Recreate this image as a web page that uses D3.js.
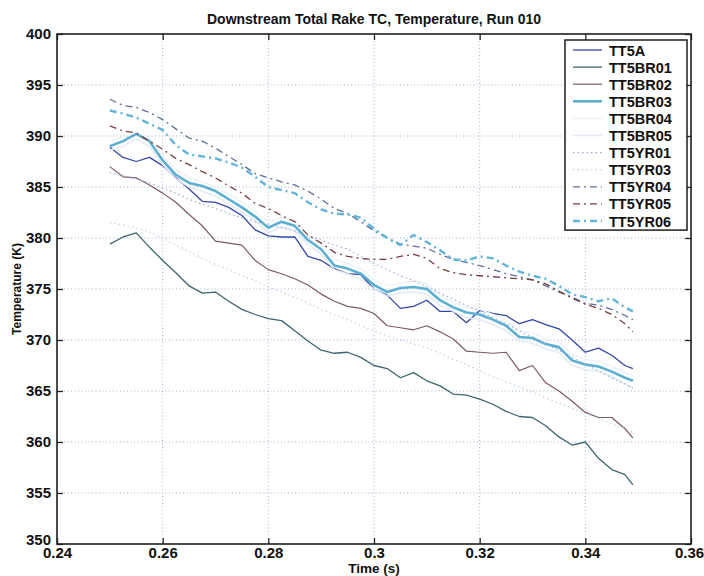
<!DOCTYPE html>
<html>
<head>
<meta charset="utf-8">
<script src="https://cdn.jsdelivr.net/npm/d3@7/dist/d3.min.js"></script>
<style>
  html, body { margin: 0; padding: 0; background: #ffffff; }
  svg { display: block; }
  text { font-family: "Liberation Sans", Arial, sans-serif; fill: #111; }
</style>
</head>
<body>
<svg id="chart" width="704" height="576"></svg>
<script>
// Sample times (s)
const times = [0.2500, 0.2525, 0.2550, 0.2575, 0.2600, 0.2625, 0.2650, 0.2675, 0.2700, 0.2725,
               0.2750, 0.2775, 0.2800, 0.2825, 0.2850, 0.2875, 0.2900, 0.2925, 0.2950, 0.2975,
               0.3000, 0.3025, 0.3050, 0.3075, 0.3100, 0.3125, 0.3150, 0.3175, 0.3200, 0.3225,
               0.3250, 0.3275, 0.3300, 0.3325, 0.3350, 0.3375, 0.3400, 0.3425, 0.3450, 0.3475,
               0.3490];

// Thermocouple temperatures (K)
const TT5A = [388.9, 387.9, 387.5, 387.9, 387.1, 385.9, 384.8, 383.6, 383.5, 383.0,
              382.2, 380.8, 380.2, 380.1, 380.1, 378.2, 377.8, 377.0, 376.5, 376.4,
              375.0, 374.4, 373.1, 373.3, 373.9, 372.8, 372.8, 371.7, 372.9, 372.6,
              372.4, 371.6, 372.0, 371.5, 371.1, 370.0, 368.8, 369.2, 368.5, 367.5,
              367.2];
const TT5BR01 = [379.4, 380.1, 380.5, 379.1, 377.8, 376.6, 375.3, 374.6, 374.7, 373.8,
                 373.0, 372.5, 372.1, 371.9, 370.9, 369.9, 369.0, 368.7, 368.8, 368.3,
                 367.5, 367.2, 366.3, 366.8, 366.0, 365.5, 364.7, 364.6, 364.2, 363.7,
                 363.0, 362.5, 362.4, 361.6, 360.5, 359.7, 360.0, 358.4, 357.3, 356.8,
                 355.8];
const TT5BR02 = [387.0, 386.0, 385.9, 385.2, 384.4, 383.5, 382.3, 381.2, 379.7, 379.5,
                 379.3, 377.8, 376.9, 376.5, 376.0, 375.4, 374.5, 373.8, 373.3, 373.1,
                 372.6, 371.4, 371.2, 371.0, 371.4, 370.8, 370.1, 368.9, 368.8, 368.7,
                 368.8, 367.0, 367.5, 365.8, 365.0, 364.0, 362.9, 362.4, 362.4, 361.3,
                 360.4];
const TT5BR03 = [389.0, 389.5, 390.2, 389.5, 387.6, 386.2, 385.4, 385.1, 384.6, 383.8,
                 383.0, 382.1, 381.0, 381.6, 381.2, 379.8, 378.9, 377.3, 377.0, 376.5,
                 375.4, 374.7, 375.1, 375.2, 375.0, 373.9, 373.2, 372.7, 372.5, 372.0,
                 371.4, 370.3, 370.2, 369.6, 369.3, 368.0, 367.6, 367.4, 366.9, 366.3,
                 366.0];
const TT5BR04 = [389.5, 389.9, 390.4, 389.8, 388.0, 386.7, 385.9, 385.5, 385.0, 384.3,
                 383.5, 382.6, 381.6, 382.0, 381.7, 380.3, 379.4, 377.9, 377.5, 377.0,
                 375.9, 375.3, 375.6, 375.8, 375.5, 374.4, 373.7, 373.2, 373.0, 372.5,
                 371.9, 370.9, 370.7, 370.1, 369.8, 368.6, 368.1, 367.9, 367.4, 366.8,
                 366.5];
const TT5BR05 = [388.6, 389.0, 389.7, 389.0, 387.2, 385.8, 385.0, 384.6, 384.1, 383.4,
                 382.5, 381.7, 380.5, 381.1, 380.7, 379.4, 378.4, 376.9, 376.5, 376.0,
                 375.0, 374.3, 374.6, 374.7, 374.5, 373.4, 372.8, 372.2, 372.0, 371.5,
                 370.9, 369.9, 369.7, 369.1, 368.8, 367.5, 367.1, 366.9, 366.4, 365.7,
                 365.3];
const TT5YR01 = [386.4, 386.1, 385.8, 385.4, 384.9, 384.4, 383.8, 383.3, 382.9, 382.4,
                 382.0, 381.6, 381.3, 381.0, 380.7, 380.2, 379.8, 379.3, 378.9, 378.2,
                 377.5, 376.9, 376.3, 375.8, 375.2, 374.6, 374.0, 373.4, 372.8, 372.2,
                 371.6, 370.9, 370.3, 369.6, 369.0, 368.3, 367.6, 367.0, 366.3, 365.7,
                 365.3];
const TT5YR03 = [381.5, 381.3, 381.0, 380.6, 380.0, 379.3, 378.7, 378.0, 377.4, 376.9,
                 376.3, 375.8, 375.2, 374.7, 374.2, 373.6, 373.0, 372.5, 372.0, 371.4,
                 370.9, 370.4, 370.0, 369.6, 369.2, 368.7, 368.1, 367.6, 367.0, 366.4,
                 365.9, 365.4, 364.9, 364.3, 363.8, 363.3, 362.8, 362.3, 361.8, 361.3,
                 361.0];
const TT5YR04 = [393.6, 393.0, 392.8, 392.3, 391.6, 390.7, 389.8, 389.5, 388.8, 388.0,
                 387.2, 386.3, 385.9, 385.5, 385.2, 384.6, 383.8, 382.9, 382.4, 381.6,
                 380.7, 380.0, 379.4, 379.2, 379.0, 378.4, 377.9, 377.6, 377.3, 376.9,
                 376.5, 376.2, 375.9, 375.3, 374.7, 374.2, 373.6, 373.4, 373.0, 372.4,
                 372.0];
const TT5YR05 = [391.0, 390.5, 390.3, 389.5, 388.7, 387.8, 387.2, 386.5, 385.9, 385.1,
                 384.4, 383.4, 382.9, 382.2, 381.6, 380.3, 379.5, 378.6, 378.2, 378.0,
                 377.9, 377.9, 378.2, 378.4, 378.0, 377.0, 376.6, 376.4, 376.3, 376.2,
                 376.1, 376.0, 375.9, 375.5, 374.8, 374.1, 373.5, 373.1, 372.5, 371.6,
                 370.8];
const TT5YR06 = [392.5, 392.2, 391.8, 391.2, 390.6, 389.1, 388.2, 388.0, 387.8, 387.4,
                 386.9, 386.0, 385.0, 384.7, 384.4, 383.5, 382.8, 382.4, 382.3, 382.0,
                 380.9, 380.0, 379.3, 380.3, 379.6, 378.8, 377.9, 377.8, 378.2, 378.0,
                 377.3, 376.7, 376.3, 376.0, 375.3, 374.5, 374.2, 373.8, 374.1, 373.2,
                 372.8];

const seriesNames = ["TT5A", "TT5BR01", "TT5BR02", "TT5BR03", "TT5BR04", "TT5BR05",
                     "TT5YR01", "TT5YR03", "TT5YR04", "TT5YR05", "TT5YR06"];
const seriesValues = [TT5A, TT5BR01, TT5BR02, TT5BR03, TT5BR04, TT5BR05,
                      TT5YR01, TT5YR03, TT5YR04, TT5YR05, TT5YR06];

// Axis ticks
const xTicks = [0.24, 0.26, 0.28, 0.30, 0.32, 0.34, 0.36];
const xTickLabels = ["0.24", "0.26", "0.28", "0.3", "0.32", "0.34", "0.36"];
const yTicks = [350, 355, 360, 365, 370, 375, 380, 385, 390, 395, 400];

// Line styles per series
const styles = {
  TT5A:    { color: "#3347a6", width: 1.3, dash: null },
  TT5BR01: { color: "#3f6470", width: 1.3, dash: null },
  TT5BR02: { color: "#7b5a68", width: 1.2, dash: null },
  TT5BR03: { color: "#5cafd2", width: 2.6, dash: null },
  TT5BR04: { color: "#edf2f9", width: 1.5, dash: null },
  TT5BR05: { color: "#e3eaf5", width: 1.5, dash: null },
  TT5YR01: { color: "#98aed4", width: 1.2, dash: "1.5,3" },
  TT5YR03: { color: "#c2d2ea", width: 1.2, dash: "1.5,3" },
  TT5YR04: { color: "#5d6f98", width: 1.3, dash: "7,4,2,4" },
  TT5YR05: { color: "#7a3e3e", width: 1.3, dash: "7,4,2,4" },
  TT5YR06: { color: "#62b4d8", width: 2.4, dash: "7,4,2,4" }
};

const svg = d3.select("#chart");
const margin = { left: 57, right: 13, top: 34, bottom: 32 };
const W = 704, H = 576;
const x = d3.scaleLinear().domain([0.24, 0.36]).range([margin.left, W - margin.right]);
const y = d3.scaleLinear().domain([350, 400]).range([H - margin.bottom, margin.top]);

// Dotted grid
const grid = svg.append("g").attr("stroke", "#9fb2d0").attr("stroke-width", 1)
  .attr("stroke-dasharray", "1,2.5");
grid.selectAll("line.gx").data(xTicks.slice(1, -1)).join("line")
  .attr("x1", d => x(d)).attr("x2", d => x(d))
  .attr("y1", y(400)).attr("y2", y(350));
grid.selectAll("line.gy").data(yTicks.slice(1, -1)).join("line")
  .attr("x1", x(0.24)).attr("x2", x(0.36))
  .attr("y1", d => y(d)).attr("y2", d => y(d));

// Temperature traces
const line = d3.line().x((d, i) => x(times[i])).y(d => y(d));
const traces = svg.append("g").attr("fill", "none")
  .attr("stroke-linejoin", "round").attr("stroke-linecap", "butt");
seriesNames.forEach((name, k) => {
  const s = styles[name];
  traces.append("path")
    .datum(seriesValues[k])
    .attr("d", line)
    .attr("stroke", s.color)
    .attr("stroke-width", s.width)
    .attr("stroke-dasharray", s.dash);
});

// Axes with inward ticks on all four sides
const fmtX = d => xTickLabels[xTicks.findIndex(t => Math.abs(t - d) < 1e-9)];
const axB = svg.append("g").attr("transform", `translate(0,${y(350)})`)
  .call(d3.axisBottom(x).tickValues(xTicks).tickFormat(fmtX).tickSize(-6).tickPadding(3));
const axL = svg.append("g").attr("transform", `translate(${x(0.24)},0)`)
  .call(d3.axisLeft(y).tickValues(yTicks).tickFormat(d3.format("d")).tickSize(-6).tickPadding(6));
const axT = svg.append("g").attr("transform", `translate(0,${y(400)})`)
  .call(d3.axisTop(x).tickValues(xTicks).tickFormat("").tickSize(-6));
const axR = svg.append("g").attr("transform", `translate(${x(0.36)},0)`)
  .call(d3.axisRight(y).tickValues(yTicks).tickFormat("").tickSize(-6));
[axB, axL, axT, axR].forEach(g => {
  g.select(".domain").remove();
  g.selectAll(".tick line").attr("stroke", "#222").attr("stroke-width", 1.3);
  g.selectAll(".tick text").attr("font-size", 15).attr("font-weight", "bold")
    .attr("fill", "#111").attr("font-family", "'Liberation Sans', Arial, sans-serif");
});
// keep the lowest y label clear of the first x label, and the last x label inside the page
axL.selectAll(".tick text").filter(d => d === 350).attr("dy", "0.05em");
axB.selectAll(".tick text").filter(d => Math.abs(d - 0.36) < 1e-9).attr("dx", "-2");

// Frame
svg.append("rect")
  .attr("x", x(0.24)).attr("y", y(400))
  .attr("width", x(0.36) - x(0.24)).attr("height", y(350) - y(400))
  .attr("fill", "none").attr("stroke", "#1e1e1e").attr("stroke-width", 1.6);

// Titles
svg.append("text").attr("x", (x(0.24) + x(0.36)) / 2).attr("y", 24)
  .attr("text-anchor", "middle").attr("font-size", 14).attr("font-weight", "bold")
  .text("Downstream Total Rake TC, Temperature, Run 010");
svg.append("text").attr("x", (x(0.24) + x(0.36)) / 2).attr("y", 573)
  .attr("text-anchor", "middle").attr("font-size", 13.5).attr("font-weight", "bold")
  .text("Time (s)");
svg.append("text")
  .attr("transform", `translate(21,${(y(350) + y(400)) / 2}) rotate(-90)`)
  .attr("text-anchor", "middle").attr("font-size", 12).attr("font-weight", "bold")
  .text("Temperature (K)");

// Legend
const lg = svg.append("g");
const lgX = 565, lgY = 40, lgW = 122, rowH = 17.1;
lg.append("rect").attr("x", lgX).attr("y", lgY).attr("width", lgW)
  .attr("height", rowH * seriesNames.length + 2)
  .attr("fill", "#ffffff").attr("stroke", "#1e1e1e").attr("stroke-width", 1.5);
seriesNames.forEach((name, k) => {
  const s = styles[name];
  const cy = lgY + 10 + k * rowH;
  lg.append("line").attr("x1", lgX + 8).attr("x2", lgX + 37)
    .attr("y1", cy).attr("y2", cy)
    .attr("stroke", s.color).attr("stroke-width", s.width)
    .attr("stroke-dasharray", s.dash);
  lg.append("text").attr("x", lgX + 44).attr("y", cy + 5.5)
    .attr("font-size", 14.5).attr("font-weight", "bold").text(name);
});
</script>
</body>
</html>
